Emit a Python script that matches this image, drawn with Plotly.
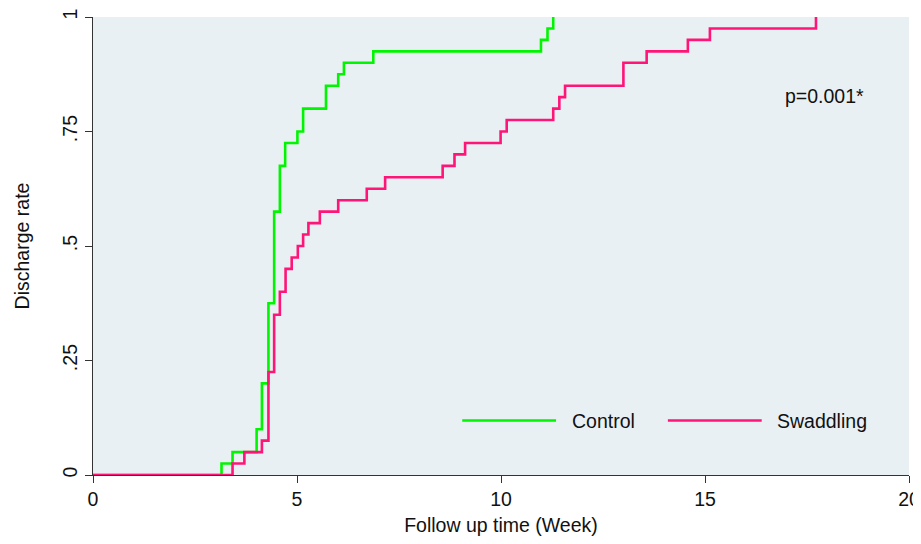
import plotly.graph_objects as go

# Kaplan-Meier style cumulative discharge curves (weeks, cumulative rate)
control_t = [0, 3.15, 3.42, 4.01, 4.14, 4.30, 4.44, 4.58, 4.71, 5.01, 5.15, 5.71, 6.01, 6.15, 6.87, 10.98, 11.14, 11.28]
control_y = [0, 0.025, 0.05, 0.10, 0.20, 0.375, 0.575, 0.675, 0.725, 0.75, 0.80, 0.85, 0.875, 0.90, 0.925, 0.95, 0.975, 1.0]

swaddling_t = [0, 3.42, 3.71, 4.14, 4.30, 4.44, 4.58, 4.72, 4.87, 5.02, 5.15, 5.28, 5.56, 6.01, 6.71, 7.16, 8.57, 8.86, 9.12,
               9.99, 10.14, 11.28, 11.43, 11.57, 13.0, 13.57, 14.58, 15.12, 17.72]
swaddling_y = [0, 0.025, 0.05, 0.075, 0.225, 0.35, 0.40, 0.45, 0.475, 0.50, 0.525, 0.55, 0.575, 0.60, 0.625, 0.65, 0.675, 0.70, 0.725,
               0.75, 0.775, 0.80, 0.825, 0.85, 0.90, 0.925, 0.95, 0.975, 1.0]

x_ticks = [0, 5, 10, 15, 20]
y_ticks = [0, 0.25, 0.5, 0.75, 1]
y_ticktext = ["0", ".25", ".5", ".75", "1"]

GREEN = "#00F500"
PINK = "#FF1478"
BG = "#E9F0F3"
FONT = "Liberation Sans, Arial, sans-serif"
TXT = "#111111"
FS = 19.5

fig = go.Figure()
fig.add_trace(go.Scatter(x=control_t, y=control_y, mode="lines", line=dict(color=GREEN, width=2.6, shape="hv"),
                         name="Control", showlegend=False))
fig.add_trace(go.Scatter(x=swaddling_t, y=swaddling_y, mode="lines", line=dict(color=PINK, width=2.6, shape="hv"),
                         name="Swaddling", showlegend=False))

# manual legend (inside plot, like the original)
leg_y = 0.119
fig.add_shape(type="line", xref="x", yref="y", x0=9.05, x1=11.35, y0=leg_y, y1=leg_y, line=dict(color=GREEN, width=2.6))
fig.add_shape(type="line", xref="x", yref="y", x0=14.09, x1=16.39, y0=leg_y, y1=leg_y, line=dict(color=PINK, width=2.6))
fig.add_annotation(x=11.69, y=leg_y, xref="x", yref="y", text="Control", showarrow=False, xanchor="left", yanchor="middle",
                   font=dict(size=FS, color=TXT, family=FONT))
fig.add_annotation(x=16.72, y=leg_y, xref="x", yref="y", text="Swaddling", showarrow=False, xanchor="left", yanchor="middle",
                   font=dict(size=FS, color=TXT, family=FONT))
fig.add_annotation(x=17.94, y=0.827, xref="x", yref="y", text="p=0.001*", showarrow=False, xanchor="center", yanchor="middle",
                   font=dict(size=FS, color=TXT, family=FONT))

fig.update_layout(
    width=925, height=528,
    margin=dict(l=85, r=24, t=9, b=61),
    paper_bgcolor="white", plot_bgcolor=BG,
    font=dict(family=FONT, size=FS, color=TXT),
    xaxis=dict(range=[0, 20], tickvals=x_ticks, ticks="outside", ticklen=7, tickcolor="#333333",
               showline=True, linecolor="#333333", linewidth=1, showgrid=False, zeroline=False, automargin=False,
               title=dict(text="Follow up time (Week)", font=dict(size=FS), standoff=12),
               tickfont=dict(size=FS)),
    yaxis=dict(range=[0, 1], tickvals=y_ticks, ticktext=y_ticktext, tickangle=-90, ticks="outside", ticklen=7,
               tickcolor="#333333", showline=True, linecolor="#333333", linewidth=1, showgrid=False, zeroline=False,
               automargin=False,
               title=dict(text="Discharge rate", font=dict(size=FS), standoff=24),
               tickfont=dict(size=FS)),
)

fig.write_html("out.html")
